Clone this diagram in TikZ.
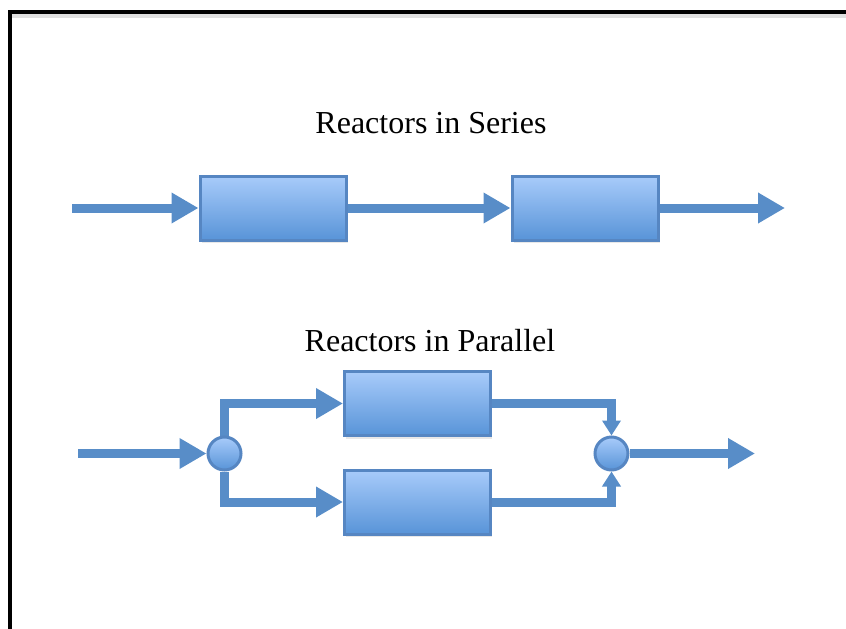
\documentclass[tikz,border=0pt]{standalone}
\usepackage{fontspec}
\setmainfont{Liberation Serif}
\usetikzlibrary{arrows.meta,shadows,backgrounds}
\definecolor{flow}{RGB}{88,141,200}
\definecolor{edge}{RGB}{86,134,194}
\definecolor{filltop}{RGB}{168,203,250}
\definecolor{fillbot}{RGB}{88,148,216}
\tikzset{
  reactor/.style={draw=edge, line width=3pt, top color=filltop, bottom color=fillbot,
    minimum width=146pt, minimum height=64pt, inner sep=0pt,
    drop shadow={opacity=0.18, shadow xshift=1.5pt, shadow yshift=-3pt}},
  junction/.style={circle, draw=edge, line width=3pt, top color=filltop, bottom color=fillbot,
    minimum size=33pt, inner sep=0pt},
  flowline/.style={draw=flow, line width=9pt, line join=miter},
  bighead/.style={-{Triangle[length=27pt, width=29pt]}},
  smallhead/.style={-{Triangle[length=15pt, width=18pt]}},
  heading/.style={font=\fontsize{32}{38}\selectfont, inner sep=0pt}
}
\begin{document}
\begin{tikzpicture}[x=1pt, y=-1pt]
  \useasboundingbox (0,0) rectangle (846,629);
  \begin{scope}
    \clip (0,0) rectangle (846,629);
    % outer frame, running past the page edges
    \fill[black!12] (12,14) rectangle (900,18);
    \draw[line width=4pt] (10,700) -- (10,12) -- (900,12);
  \end{scope}

  % series arrangement
  \node[heading] (ts) at (431,123) {Reactors in Series};
  \node[reactor] (s1) at (273,208) {};
  \node[reactor] (s2) at (585,208) {};
  \coordinate (sin) at (72,208);
  \coordinate (sout) at (785,208);
  \draw[flowline, bighead] (sin) -- (s1.west);
  \draw[flowline, bighead] (s1.east) -- (s2.west);
  \draw[flowline, bighead] (s2.east) -- (sout);

  % parallel arrangement
  \node[heading] (tp) at (430,341) {Reactors in Parallel};
  \node[reactor] (p1) at (417.5,403.5) {};
  \node[reactor] (p2) at (417.5,502) {};
  \node[junction] (c1) at (224.5,453.5) {};
  \node[junction] (c2) at (611.5,453.5) {};
  \coordinate (pin) at (78,453.5);
  \coordinate (pout) at (755,453.5);
  \begin{scope}[on background layer]
    \draw[flowline, bighead] (c1.north) |- (p1.west);
    \draw[flowline, bighead] (c1.south) |- (p2.west);
  \end{scope}
  \draw[flowline, bighead] (pin) -- (c1.west);
  \draw[flowline, smallhead] (p1.east) -| (c2.north);
  \draw[flowline, smallhead] (p2.east) -| (c2.south);
  \draw[flowline, bighead] (c2.east) -- (pout);
\end{tikzpicture}
\end{document}
